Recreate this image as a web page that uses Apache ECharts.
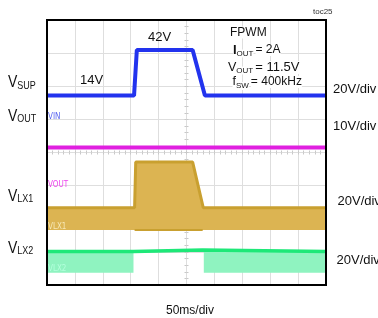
<!DOCTYPE html>
<html>
<head>
<meta charset="utf-8">
<script src="https://cdn.jsdelivr.net/npm/echarts@6/dist/echarts.min.js"></script>
<style>
  html, body { margin: 0; padding: 0; background: #fff; }
  #chart { width: 378px; height: 318px; }
</style>
</head>
<body>
<div id="chart"></div>
<script>
// scope capture toc25 - time in ms (50ms/div), levels in volts
const vsupTime  = [0, 156, 161, 261, 283, 500]
const vsupVolts = [14, 14, 41.5, 41.5, 14, 14]
const voutTime  = [0, 500]
const voutVolts = [11.5, 11.5]
const lx1Time   = [0, 157, 159, 261, 280, 500]
const lx1Volts  = [13.5, 13.5, 41, 41, 13.5, 13.5]
const lx1FlatFrom = 157
const lx1FlatTo   = 279
const lx2Time   = [0, 155, 157, 279, 281, 500]
const lx2Volts  = [12.8, 12.8, 13.7, 13.7, 12.8, 12.8]
const lx2SwitchFrom = [0, 281]
const lx2SwitchTo   = [155, 500]

// channel ground marker (div from bottom) and V/div
const chNames  = ['sup', 'out', 'lx1', 'lx2']
const chGround = [5.02, 3.0, 1.66, 0.37]
const chScale  = [20, 10, 20, 20]

function toDiv(ch, v) {
  const i = chNames.indexOf(ch)
  return chGround[i] + v / chScale[i]
}
function trace(ch, times, volts) {
  return times.map((t, i) => [t, toDiv(ch, volts[i])])
}

// lx2 switching band, broken between segments
const lx2Band = []
lx2SwitchFrom.forEach((from, i) => {
  if (i > 0) lx2Band.push([from, '-'])
  lx2Band.push([from, toDiv('lx2', lx2Volts[0])])
  lx2Band.push([lx2SwitchTo[i], toDiv('lx2', lx2Volts[0])])
})

const ctx = document.createElement('canvas').getContext('2d')
const FONT = '"Liberation Sans", Arial, sans-serif'
function textW(str, size, weight) {
  ctx.font = (weight || 'normal') + ' ' + size + 'px ' + FONT
  return ctx.measureText(str).width
}
function txt(x, y, str, size, opts) {
  opts = opts || {}
  return {
    type: 'text', x: x, y: y, z: 110,
    scaleY: opts.scaleY || 1,
    style: {
      text: str, x: 0, y: 0,
      font: (opts.weight || 'normal') + ' ' + size + 'px ' + FONT,
      fill: opts.color || '#111',
      verticalAlign: 'middle',
      align: opts.align || 'left',
      backgroundColor: opts.bg
    }
  }
}
// main letter + subscript (+ optional tail)
function subLabel(x, y, main, sub, size, subSize, subDy, opts) {
  opts = opts || {}
  const els = [txt(x, y, main, size, opts)]
  const x2 = x + textW(main, size, opts.weight)
  els.push(txt(x2, y + subDy, sub, subSize, { scaleY: opts.scaleY, bg: opts.bg }))
  if (opts.tail) {
    const x3 = x2 + textW(sub, subSize) + 2
    els.push(txt(x3, y, opts.tail, opts.tailSize || size, { bg: opts.bg }))
  }
  return els
}

const tiny = '8px "Liberation Sans Narrow", "DejaVu Sans Condensed", sans-serif'
function marker(y, str, color) {
  return { type: 'text', x: 48, y: y, z: 110,
    style: { text: str, x: 0, y: 0, font: tiny, fill: color, verticalAlign: 'middle' } }
}

const graphics = [
  { type: 'rect', z: 100, shape: { x: 47, y: 20, width: 279, height: 265 },
    style: { fill: 'none', stroke: '#000', lineWidth: 2 } },
  txt(313, 12, 'toc25', 8, { color: '#333' }),
  txt(80, 80, '14V', 13),
  txt(148, 37, '42V', 13),
  txt(230, 32.5, 'FPWM', 12, { bg: '#fff' }),
  ...subLabel(233, 50, 'I', 'OUT', 13, 8, 3.5, { weight: 'bold', bg: '#fff', tail: '= 2A', tailSize: 12 }),
  ...subLabel(228, 67.5, 'V', 'OUT', 12.5, 8, 3, { bg: '#fff', tail: '= 11.5V', tailSize: 13 }),
  ...subLabel(232.5, 82, 'f', 'SW', 12.5, 8, 4, { bg: '#fff', tail: '= 400kHz', tailSize: 12 }),
  ...subLabel(8, 82.5, 'V', 'SUP', 14, 9, 3.5, { scaleY: 1.15 }),
  ...subLabel(8, 116.7, 'V', 'OUT', 14, 9, 2.5, { scaleY: 1.15 }),
  ...subLabel(8, 196.7, 'V', 'LX1', 14, 9, 2.5, { scaleY: 1.15 }),
  ...subLabel(8, 248.3, 'V', 'LX2', 14, 9, 2.5, { scaleY: 1.15 }),
  txt(333, 89.7, '20V/div', 13),
  txt(333, 126.3, '10V/div', 13),
  txt(337.5, 201.7, '20V/div', 13),
  txt(336.5, 260.5, '20V/div', 13),
  txt(190, 311, '50ms/div', 12, { align: 'center' }),
  marker(117, 'VIN', '#5a66f0'),
  marker(185, 'VOUT', '#ee44ee'),
  marker(227, 'VLX1', '#f6e7b4'),
  marker(268.5, 'VLX2', '#b4ffdc')
]

function centerAxis(kind, offset, inside) {
  const tick = { show: true, inside: inside, length: 2, lineStyle: { color: '#c8c8c8' } }
  return {
    type: 'value', min: kind === 'x' ? 0 : 0, max: kind === 'x' ? 500 : 8,
    interval: kind === 'x' ? 50 : 1,
    position: kind === 'x' ? 'bottom' : 'left', offset: offset,
    axisLine: { show: false }, axisLabel: { show: false }, splitLine: { show: false },
    axisTick: tick,
    minorTick: { show: true, splitNumber: 5, length: 2, lineStyle: { color: '#c8c8c8' } }
  }
}

const gridLine = { show: true, lineStyle: { color: '#dedede', width: 1 } }

const chart = echarts.init(document.getElementById('chart'), null, { renderer: 'canvas' })
chart.setOption({
  animation: false,
  backgroundColor: '#fff',
  grid: { left: 47, top: 20, width: 279, height: 265 },
  xAxis: [
    { type: 'value', min: 0, max: 500, interval: 50,
      axisLine: { show: false }, axisTick: { show: false }, axisLabel: { show: false },
      splitLine: gridLine },
    centerAxis('x', -132.5, true),
    centerAxis('x', -132.5, false)
  ],
  yAxis: [
    { type: 'value', min: 0, max: 8, interval: 1,
      axisLine: { show: false }, axisTick: { show: false }, axisLabel: { show: false },
      splitLine: gridLine },
    centerAxis('y', -139.5, true),
    centerAxis('y', -139.5, false)
  ],
  graphic: graphics,
  series: [
    {
      name: 'LX1', type: 'line', symbol: 'none',
      data: trace('lx1', lx1Time, lx1Volts),
      lineStyle: { color: '#c9a030', width: 3 },
      areaStyle: { color: '#dcb452', opacity: 1, origin: chGround[2] },
      z: 2
    },
    {
      name: 'LX1 low', type: 'line', symbol: 'none',
      data: [[lx1FlatFrom, toDiv('lx1', 0)], [lx1FlatTo, toDiv('lx1', 0)]],
      lineStyle: { color: '#c9a030', width: 2 },
      z: 3
    },
    {
      name: 'LX2 band', type: 'line', symbol: 'none',
      data: lx2Band,
      lineStyle: { width: 0 },
      areaStyle: { color: '#8ff3c0', opacity: 1, origin: chGround[3] },
      z: 2
    },
    {
      name: 'LX2', type: 'line', symbol: 'none',
      data: trace('lx2', lx2Time, lx2Volts),
      lineStyle: { color: '#1ee878', width: 3.5 },
      z: 4
    },
    {
      name: 'VOUT', type: 'line', symbol: 'none',
      data: trace('out', voutTime, voutVolts),
      lineStyle: { color: '#e020e0', width: 4 },
      z: 4
    },
    {
      name: 'VSUP', type: 'line', symbol: 'none',
      data: trace('sup', vsupTime, vsupVolts),
      lineStyle: { color: '#2233ee', width: 4 },
      z: 5
    }
  ]
})
</script>
</body>
</html>
